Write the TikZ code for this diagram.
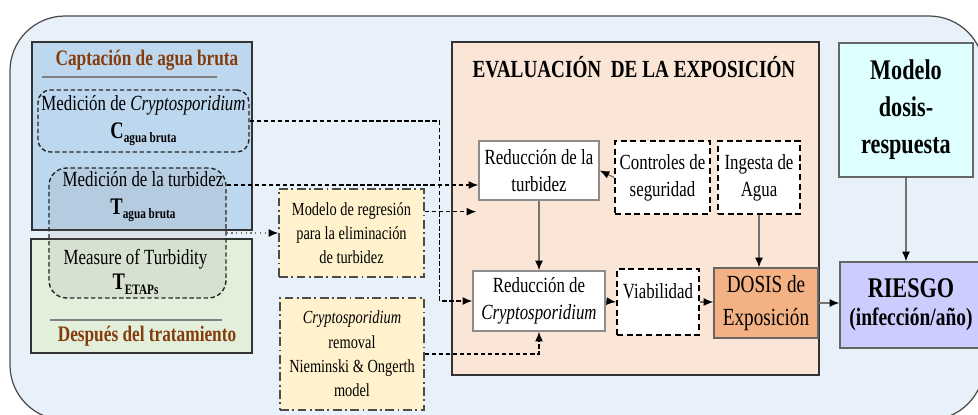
\documentclass[tikz,border=0pt]{standalone}
\usepackage{fontspec}
\setmainfont{Liberation Serif}[FakeStretch=0.78]
\usetikzlibrary{arrows.meta,calc,positioning}
\definecolor{outerbg}{HTML}{E8F0F9}
\definecolor{capbg}{HTML}{BDD7EE}
\definecolor{tratbg}{HTML}{E2EFDA}
\definecolor{yellowbg}{HTML}{FFF2CC}
\definecolor{evalbg}{HTML}{FBE5D6}
\definecolor{dosisbg}{HTML}{F4B183}
\definecolor{drbg}{HTML}{DDFFFF}
\definecolor{riesgobg}{HTML}{CCCCFF}
\definecolor{brownt}{HTML}{843C0C}
\newcommand{\msub}[2]{{\fontsize{13.5}{14}\selectfont\bfseries #1}\raisebox{-2.8pt}{\fontsize{8.2}{9}\selectfont\bfseries #2}}

\begin{document}
\begin{tikzpicture}[x=0.02cm,y=-0.02cm,>={Latex[length=5.5pt,width=4.5pt]},
    every node/.style={inner sep=0pt},
    txt/.style={font=\fontsize{12.3}{15.4}\selectfont,align=center},
    bigbox/.style={draw=black!80,line width=0.9pt},
    whitebox/.style={draw=black!45,fill=white,line width=0.8pt,txt},
    dashbox/.style={draw=black,fill=white,line width=1pt,dash pattern=on 3.5pt off 2pt,txt},
    meanbox/.style={draw=black!85,line width=0.8pt,dash pattern=on 2.5pt off 1.5pt,rounded corners=7pt},
    yellowbox/.style={draw=black!70,fill=yellowbg,line width=0.8pt,dash pattern=on 5pt off 2pt on 1pt off 2pt,align=center,font=\fontsize{10.5}{13.8}\selectfont},
    brtitle/.style={font=\fontsize{12.6}{14}\selectfont\bfseries,text=brownt},
    dasharr/.style={->,line width=0.8pt,dash pattern=on 2.5pt off 1.5pt},
    solarr/.style={-{Latex[length=5.5pt,width=4.5pt,color=black]},draw=black!55,line width=0.7pt},
    dotarr/.style={-{Latex[length=5.5pt,width=4.5pt,color=black]},draw=black!55,dotted,line width=0.7pt}]
    \useasboundingbox (0,0) rectangle (978,414);
    \draw[draw=black!70,fill=outerbg,rounded corners=1.1cm,line width=0.7pt] (10,16) rectangle (984,420);
    %
    \node[bigbox,fill=capbg,minimum width=4.4cm,minimum height=3.76cm] (cap_box) at (142,136) {};
    \node[bigbox,fill=tratbg,minimum width=4.42cm,minimum height=2.28cm] (trat_box) at (141.5,296) {};
    \node[brtitle] (cap_title) at (147,60) {Captación de agua bruta};
    \draw[black!50,line width=0.8pt] (42,77) -- (217,77);
    \node[brtitle] (trat_title) at (147,336) {Después del tratamiento};
    \draw[black!50,line width=0.8pt] (50,320) -- (222,320);
    \node[meanbox,txt,minimum width=4.22cm,minimum height=1.24cm] (cr_med) at (143.5,121) {Medición de \textit{Cryptosporidium}\\\msub{C}{agua bruta}};
    \node[meanbox,rounded corners=10pt,fill=gray,fill opacity=0.12,minimum width=3.54cm,minimum height=2.6cm] (turb_box) at (137.5,233) {};
    \node[txt] (turb_t1) at (143,197) {Medición de la turbidez\\\msub{T}{agua bruta}};
    \node[txt] (turb_t2) at (135.5,272) {Measure of Turbidity\\[-1pt]\msub{T}{ETAPs}};
    %
    \node[yellowbox,minimum width=2.9cm,minimum height=1.76cm] (reg_box) at (351.5,233) {Modelo de regresión\\para la eliminación\\de turbidez};
    \node[yellowbox,minimum width=2.88cm,minimum height=2.24cm] (rem_box) at (352,354) {\textit{Cryptosporidium}\\removal\\Nieminski \& Ongerth\\model};
    %
    \node[bigbox,fill=evalbg,minimum width=7.34cm,minimum height=6.66cm] (eval_box) at (635.5,208.5) {};
    \node[font=\fontsize{14}{16}\selectfont\bfseries] (eval_title) at (634,67) {EVALUACIÓN~ DE LA EXPOSICIÓN};
    \node[whitebox,minimum width=2.4cm,minimum height=1.18cm] (turb_red) at (539,170.5) {Reducción de la\\turbidez};
    \node[dashbox,minimum width=1.9cm,minimum height=1.46cm] (ctrl) at (662.5,177.5) {Controles de\\seguridad};
    \node[dashbox,minimum width=1.64cm,minimum height=1.46cm] (ingesta) at (759,177.5) {Ingesta de\\Agua};
    \node[whitebox,minimum width=2.64cm,minimum height=1.2cm] (cr_red) at (539,301) {Reducción de\\\textit{Cryptosporidium}};
    \node[dashbox,minimum width=1.64cm,minimum height=1.32cm] (viab) at (658,302) {};
    \node[txt] (viab_txt) at (658,291) {Viabilidad};
    \node[draw=black!60,fill=dosisbg,line width=0.8pt,txt,font=\fontsize{14}{18.8}\selectfont,minimum width=2.08cm,minimum height=1.4cm] (dosis) at (766,303) {DOSIS de\\Exposición};
    %
    \node[draw=black!60,fill=drbg,line width=0.8pt,align=center,font=\fontsize{16.2}{21}\selectfont\bfseries,minimum width=2.68cm,minimum height=2.68cm] (dr) at (906,110) {Modelo\\dosis-\\respuesta};
    \node[draw=black!60,fill=riesgobg,line width=0.8pt,align=center,font=\bfseries,minimum width=2.84cm,minimum height=1.72cm] (riesgo) at (911,305) {\fontsize{16.2}{18.8}\selectfont RIESGO\\[4pt]\fontsize{14.2}{18.8}\selectfont (infección/año)};
    %
    \coordinate (turb_in) at ([yshift=-0.29cm]turb_red.west);
    \coordinate (reg_end) at ([shift={(-2,11)}]turb_red.south west);
    \draw[dasharr] (cr_med.east) -- ++(190,0) |- (cr_red.west);
    \draw[dasharr] (turb_box.east |- turb_in) -- (turb_in);
    \draw[dasharr] (reg_box.east |- reg_end) -- (reg_end);
    \draw[dotarr] (turb_box.east) -- (reg_box.west);
    \draw[dasharr] (rem_box.east) -| (cr_red.south);
    \draw[solarr] (ctrl.west) -- (turb_red.east);
    \draw[solarr] (turb_red.south) -- (cr_red.north);
    \draw[solarr] (ingesta.south) -- (ingesta.south |- dosis.north);
    \draw[solarr] (cr_red.east) -- (viab.west);
    \draw[solarr] (viab.east) -- (viab.east -| dosis.west);
    \draw[solarr] (dosis.east) -- (dosis.east -| riesgo.west);
    \draw[solarr] (dr.south) -- (dr.south |- riesgo.north);
\end{tikzpicture}
\end{document}
